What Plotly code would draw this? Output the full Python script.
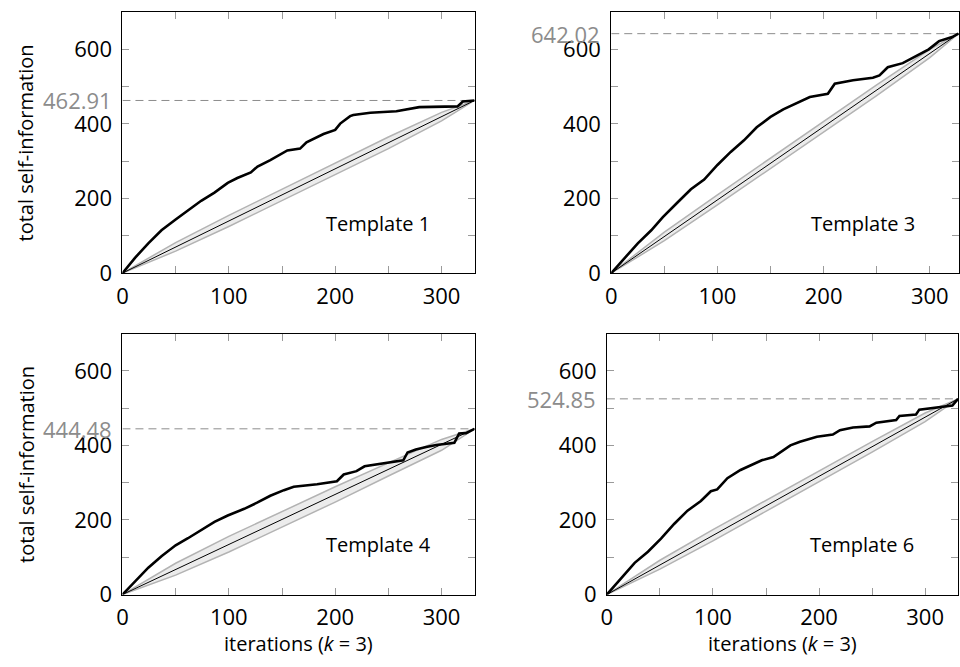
import plotly.graph_objects as go

FONT = "Open Sans"

# ---------------- data ----------------
templates = ["Template 1", "Template 3", "Template 4", "Template 6"]
totals = [462.91, 642.02, 444.48, 524.85]
n_iter = [331, 327, 331, 331]

# observed cumulative self-information (thick curves)
t1_x = [0, 11.8, 24.3, 36.7, 50, 63, 74, 86.5, 99, 108, 120.7, 127, 139, 155, 167, 173,
        189, 200, 204.7, 214, 217, 233, 257.5, 279, 315, 320, 331]
t1_y = [0, 41, 80, 115, 144, 172, 194, 216, 242, 255, 270, 286, 303, 329, 334, 351,
        373, 384, 401, 421, 424, 430, 434, 445, 447, 460, 462.91]

t3_x = [0, 12.8, 25, 37.7, 48.6, 62.6, 75, 87.5, 100, 112.5, 125, 137, 150, 162, 175,
        187, 204, 210.5, 227.7, 246.4, 252.6, 260.4, 274.5, 287, 299, 308.7, 321, 327]
t3_y = [0, 41, 80, 115, 150, 190, 225, 251, 290, 325, 356, 391, 419, 439, 456,
        472, 481, 508, 517, 524, 530, 552, 563, 583, 600, 622, 633, 642.02]

t4_x = [0, 11.8, 24.3, 36.7, 50, 61.6, 74, 86.5, 99, 114.5, 127, 139, 151.8, 161, 183,
        190.7, 201.6, 208, 220, 227.6, 248, 264, 268, 275.8, 285.5, 295, 312, 316.5,
        323, 329, 331]
t4_y = [0, 35, 72, 103, 132, 151, 173, 195, 212, 230, 247, 265, 280, 289, 296,
        300, 304, 322, 331, 344, 353, 360, 381, 389, 396, 401, 407, 432,
        433, 440, 444.48]

t6_x = [0, 13.7, 26.2, 38.7, 51, 63.6, 76, 88.6, 98, 104, 113.6, 126, 138.5, 146, 157,
        163.5, 173, 182, 198, 213, 219.7, 232, 247.7, 254, 272.7, 275.8, 291.4, 294.5,
        307, 316.4, 325.7, 331]
t6_y = [0, 45.5, 85, 115, 150, 190, 225, 251, 277, 282, 312, 334, 350, 360, 369,
        382, 400, 410, 423, 429, 441, 448, 451, 461, 468, 479, 483, 496,
        500, 505, 507, 524.85]

# random-permutation envelope (gray band) and its mean (thin line)
band_x = [[0, 50, 100, 150, 200, 250, 300, 331],
          [0, 50, 100, 150, 200, 250, 300, 327],
          [0, 50, 100, 150, 200, 250, 300, 331],
          [0, 50, 100, 150, 200, 250, 300, 331]]
band_hi = [[0, 82, 155, 225, 296, 365, 431, 462.91],
           [0, 110, 210, 309, 407, 505, 600, 642.02],
           [0, 84, 156, 223, 289, 353, 416, 444.48],
           [0, 92, 174, 253, 332, 410, 487, 524.85]]
band_lo = [[0, 59, 125, 194, 264, 334, 408, 462.91],
           [0, 87, 183, 280, 378, 476, 578, 642.02],
           [0, 52, 114, 181, 248, 318, 387, 444.48],
           [0, 68, 144, 223, 302, 382, 464, 524.85]]

curves_x = [t1_x, t3_x, t4_x, t6_x]
curves_y = [t1_y, t3_y, t4_y, t6_y]

x_ranges = [[0, 331], [0, 327.5], [0, 331], [0, 331]]
y_range = [0, 700]
x_tickvals = [0, 50, 100, 150, 200, 250, 300]
x_ticktext = ["0", "", "100", "", "200", "", "300"]
y_tickvals = [0, 100, 200, 300, 400, 500, 600, 700]
y_ticktext = ["0", "", "200", "", "400", "", "600", ""]

# ---------------- layout geometry (pixels) ----------------
W, H = 960, 667
panels_px = [  # left, right, top, bottom
    (117.3, 472.0, 12.3, 279.0),
    (609.7, 960.0, 12.3, 279.0),
    (117.3, 472.0, 340.7, 607.3),
    (605.3, 959.0, 340.7, 607.3),
]
TICK_SIZE = 22
TEXT_SIZE = 20

fig = go.Figure()
layout = dict(
    width=W, height=H, autosize=False,
    margin=dict(l=0, r=0, t=0, b=0),
    paper_bgcolor="white", plot_bgcolor="white",
    showlegend=False,
    font=dict(family=FONT, size=TICK_SIZE, color="black"),
)
annotations = []

for i in range(4):
    xa = "x" if i == 0 else f"x{i+1}"
    ya = "y" if i == 0 else f"y{i+1}"
    N = n_iter[i]
    tot = totals[i]
    fig.add_trace(go.Scatter(x=band_x[i], y=band_lo[i], mode="lines",
                             line=dict(color="#b3b3b3", width=1.5),
                             xaxis=xa, yaxis=ya, hoverinfo="skip"))
    fig.add_trace(go.Scatter(x=band_x[i], y=band_hi[i], mode="lines",
                             line=dict(color="#b3b3b3", width=1.5),
                             fill="tonexty", fillcolor="#ececec",
                             xaxis=xa, yaxis=ya, hoverinfo="skip"))
    fig.add_trace(go.Scatter(x=[0, N], y=[tot, tot], mode="lines",
                             line=dict(color="#8c8c8c", width=1, dash="8px,5px"),
                             xaxis=xa, yaxis=ya, hoverinfo="skip"))
    fig.add_trace(go.Scatter(x=[0, N], y=[0, tot], mode="lines",
                             line=dict(color="black", width=1),
                             xaxis=xa, yaxis=ya))
    fig.add_trace(go.Scatter(x=curves_x[i], y=curves_y[i], mode="lines",
                             line=dict(color="black", width=2.6),
                             xaxis=xa, yaxis=ya))

    l, r, t, b = panels_px[i]
    axkey_x = "xaxis" if i == 0 else f"xaxis{i+1}"
    axkey_y = "yaxis" if i == 0 else f"yaxis{i+1}"
    layout[axkey_x] = dict(
        domain=[l / W, min(r / W, 1.0)], anchor=ya, range=x_ranges[i],
        tickmode="array", tickvals=x_tickvals, ticktext=x_ticktext,
        ticks="inside", ticklen=7, tickcolor="#9a9a9a", tickwidth=1,
        showline=True, linecolor="black", linewidth=1, mirror="ticks",
        showgrid=False, zeroline=False, ticklabelstandoff=3,
        tickfont=dict(family=FONT, size=TICK_SIZE, color="black"),
    )
    layout[axkey_y] = dict(
        domain=[1 - b / H, 1 - t / H], anchor=xa, range=y_range,
        tickmode="array", tickvals=y_tickvals, ticktext=y_ticktext,
        ticks="inside", ticklen=7, tickcolor="#9a9a9a", tickwidth=1,
        showline=True, linecolor="black", linewidth=1, mirror="ticks",
        showgrid=False, zeroline=False, ticklabelstandoff=5,
        tickfont=dict(family=FONT, size=TICK_SIZE, color="black"),
    )
    annotations.append(dict(
        text=f"{tot:.2f}", xref="paper", yref=ya, x=(l - 9) / W, y=tot,
        xanchor="right", yanchor="middle", showarrow=False,
        font=dict(family=FONT, size=TICK_SIZE, color="#8c8c8c"),
    ))
    annotations.append(dict(
        text=templates[i], xref="paper", yref="paper",
        x=(l + 0.727 * (min(r, 959) - l)) / W,
        y=1 - (b - 51) / H,
        xanchor="center", yanchor="middle", showarrow=False,
        font=dict(family=FONT, size=TEXT_SIZE, color="black"),
    ))
    if i in (0, 2):
        annotations.append(dict(
            text="total self-information", xref="paper", yref="paper",
            x=20 / W, y=1 - ((t + b) / 2) / H, textangle=-90,
            xanchor="center", yanchor="middle", showarrow=False,
            font=dict(family=FONT, size=TEXT_SIZE, color="black"),
        ))
    if i in (2, 3):
        annotations.append(dict(
            text="iterations (<i>k</i> = 3)", xref="paper", yref="paper",
            x=((l + r) / 2) / W, y=1 - 657 / H,
            xanchor="center", yanchor="middle", showarrow=False,
            font=dict(family=FONT, size=TEXT_SIZE, color="black"),
        ))

layout["annotations"] = annotations
fig.update_layout(**layout)

fig.write_html("out.html", config={"displayModeBar": False},
               post_script="document.body.style.margin='0';")
